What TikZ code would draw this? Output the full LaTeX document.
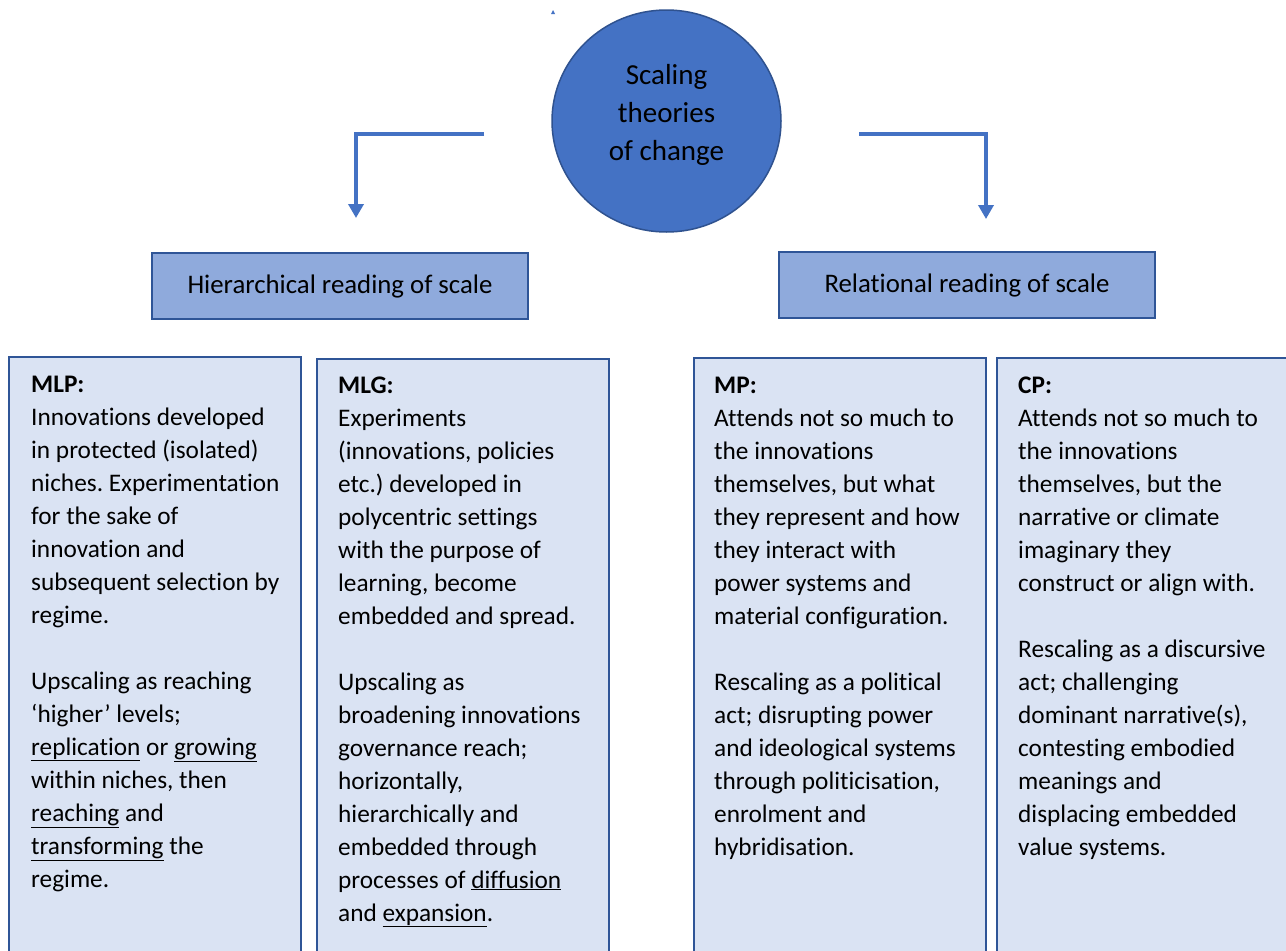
\documentclass[tikz,border=0pt]{standalone}
\usepackage{fontspec}
\setmainfont{Carlito}[RawFeature={-liga;-clig;-calt;-dlig}]
\frenchspacing
\usetikzlibrary{arrows.meta,shapes.geometric}
\definecolor{accent}{HTML}{4472C4}
\definecolor{accentdark}{HTML}{2F528F}
\definecolor{headfill}{HTML}{8FAADC}
\definecolor{frame}{HTML}{2F5597}
\definecolor{colfill}{HTML}{DAE3F3}
\newcommand{\coltxt}[1]{\parbox[t]{300pt}{\raggedright\fontsize{25.3}{33}\selectfont #1}}
\begin{document}
\begin{tikzpicture}[x=1pt,y=-1pt,
  headbox/.style={draw=frame, line width=2pt, fill=headfill, minimum width=376pt,
    minimum height=66pt, inner sep=0pt, font=\fontsize{26.8}{32}\selectfont},
  colbox/.style={draw=frame, line width=2.5pt, fill=colfill, minimum width=292pt,
    minimum height=640pt, anchor=north west, inner sep=0pt, outer sep=0pt},
  coltext/.style={anchor=base west, inner sep=0pt},
  flow/.style={draw=accent, line width=3.5pt, -{Triangle[width=15pt,length=14pt]}},
]
\clip (0,0) rectangle (1286,951);
\fill[white] (0,0) rectangle (1286,951);

% central topic
\node[ellipse, draw=accentdark, line width=1.5pt, fill=accent,
      minimum width=229pt, minimum height=222pt, inner sep=0pt] (theory) at (666.5,121) {};
\node[anchor=base, inner sep=0pt] (theorytext) at (666.5,84)
  {\parbox[t]{200pt}{\centering\fontsize{29}{38}\selectfont Scaling\\theories\\of change}};
\fill[accent] (551,14) -- (555,14) -- (553,10) -- cycle;

% the two readings
\node[headbox] (hier) at (340,286) {Hierarchical reading of scale};
\node[headbox] (rel) at (967,285) {Relational reading of scale};

% connectors
\coordinate (lstart) at (484,134);
\coordinate (ltip) at (356,218);
\coordinate (rstart) at (859,134);
\coordinate (rtip) at (986,219);
\draw[flow] (lstart) -| (ltip);
\draw[flow] (rstart) -| (rtip);

% the four perspectives
\node[colbox] (mlp) at (9,357) {};
\node[colbox] (mlg) at (317,359) {};
\node[colbox] (mp) at (694,358) {};
\node[colbox] (cp) at (997,358) {};

\node[coltext] (mlptext) at (31,392) {\coltxt{%
\textbf{MLP:}\\
Innovations developed\\
in protected (isolated)\\
niches. Experimentation\\
for the sake of\\
innovation and\\
subsequent selection by\\
regime.\\[33pt]
Upscaling as reaching\\
‘higher’ levels;\\
\underline{replication} or \underline{growing}\\
within niches, then\\
\underline{reaching} and\\
\underline{transforming} the\\
regime.}};

\node[coltext] (mlgtext) at (338,393) {\coltxt{%
\textbf{MLG:}\\
Experiments\\
(innovations, policies\\
etc.) developed in\\
polycentric settings\\
with the purpose of\\
learning, become\\
embedded and spread.\\[33pt]
Upscaling as\\
broadening innovations\\
governance reach;\\
horizontally,\\
hierarchically and\\
embedded through\\
processes of \underline{diffusion}\\
and \underline{expansion}.}};

\node[coltext] (mptext) at (714,393) {\coltxt{%
\textbf{MP:}\\
Attends not so much to\\
the innovations\\
themselves, but what\\
they represent and how\\
they interact with\\
power systems and\\
material configuration.\\[33pt]
Rescaling as a political\\
act; disrupting power\\
and ideological systems\\
through politicisation,\\
enrolment and\\
hybridisation.}};

\node[coltext] (cptext) at (1018,393) {\coltxt{%
\textbf{CP:}\\
Attends not so much to\\
the innovations\\
themselves, but the\\
narrative or climate\\
imaginary they\\
construct or align with.\\[33pt]
Rescaling as a discursive\\
act; challenging\\
dominant narrative(s),\\
contesting embodied\\
meanings and\\
displacing embedded\\
value systems.}};
\end{tikzpicture}
\end{document}
